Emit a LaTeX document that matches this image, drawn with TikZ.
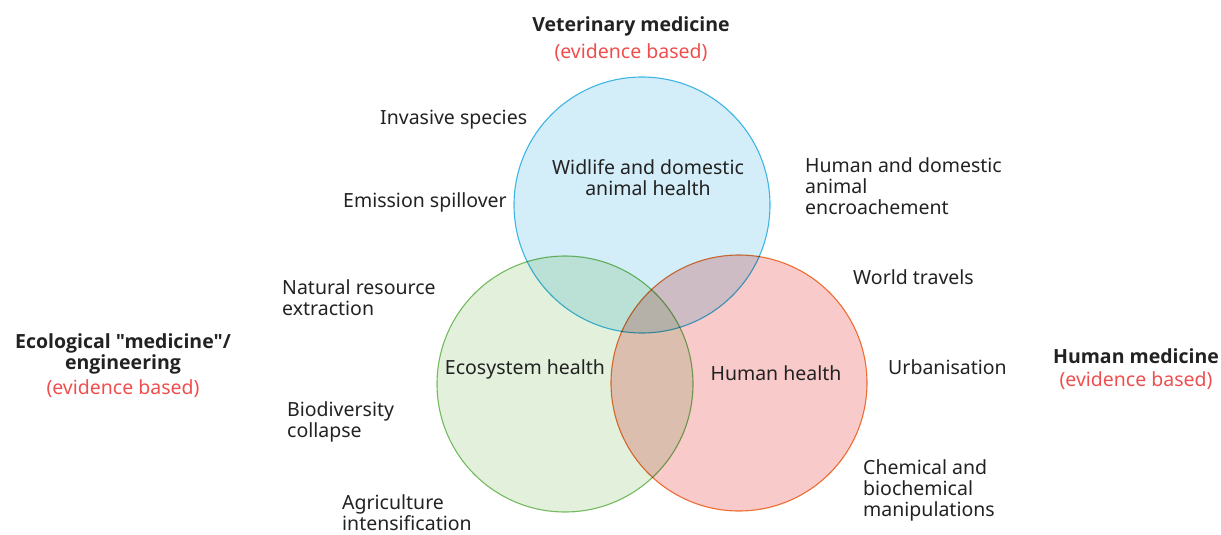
\documentclass[tikz,border=0pt]{standalone}
\usepackage{fontspec}
\setmainfont{Noto Sans}[Ligatures=TeXOff]
\newfontfamily\headfont{Open Sans}[Ligatures=TeXOff]
\usepackage{xcolor}
\usetikzlibrary{positioning}

\definecolor{vetline}{HTML}{45BDEA}
\definecolor{vetfill}{HTML}{D3EEF8}
\definecolor{ecoline}{HTML}{7CC268}
\definecolor{ecofill}{HTML}{E2F0DC}
\definecolor{humline}{HTML}{F27D3A}
\definecolor{humfill}{HTML}{F8CACA}
\definecolor{evired}{HTML}{F04E4E}
\definecolor{ink}{HTML}{222222}

\begin{document}
\begin{tikzpicture}[
  x=1pt, y=-1pt,
  field/.style={circle, draw=#1line, fill=#1fill, line width=1.1pt, minimum size=256pt, inner sep=0pt},
  head/.style={font=\headfont\fontsize{19.5}{21}\selectfont\bfseries, text=ink, align=center, inner sep=0pt},
  evi/.style={font=\fontsize{19.5}{21}\selectfont, text=evired, inner sep=0pt},
  label/.style={font=\fontsize{19.5}{21}\selectfont, text=ink, align=left, inner sep=0pt},
  area/.style={font=\fontsize{19.5}{21}\selectfont, text=ink, align=center, inner sep=0pt},
  node distance=8pt
]
  \useasboundingbox (0,0) rectangle (1221,535);

  % the three circles
  \begin{scope}[blend group=multiply]
    \node[field=vet] (vet) at (642,205) {};
    \node[field=eco] (eco) at (565,384) {};
    \node[field=hum] (hum) at (739,383) {};
  \end{scope}

  \node[area] (vetarea) at (648,178) {Widlife and domestic\\animal health};
  \node[area] (ecoarea) at (525,369) {Ecosystem health};
  \node[area] (humarea) at (776,373) {Human health};

  % disciplines
  \node[head] (vethead) at (631,26) {Veterinary medicine};
  \node[evi, below=of vethead] (vetevi) {(evidence based)};
  \node[head] (ecohead) at (123,354) {Ecological "medicine"/\\engineering};
  \node[evi, below=5pt of ecohead] (ecoevi) {(evidence based)};
  \node[head] (humhead) at (1136,356) {Human medicine};
  \node[evi, below=of humhead] (humevi) {(evidence based)};

  % drivers
  \node[label, anchor=west] (invasive) at (380,120) {Invasive species};
  \node[label, anchor=west] (emission) at (343,202) {Emission spillover};
  \node[label, anchor=west] (encroach) at (805,186) {Human and domestic\\animal\\encroachement};
  \node[label, anchor=west] (travels) at (853,277) {World travels};
  \node[label, anchor=west] (resource) at (282,298) {Natural resource\\extraction};
  \node[label, anchor=west] (urban) at (888,367) {Urbanisation};
  \node[label, anchor=west] (biodiv) at (287,422) {Biodiversity\\collapse};
  \node[label, anchor=west] (chemical) at (863,490) {Chemical and\\biochemical\\manipulations};
  \node[label, anchor=west] (agri) at (342,513) {Agriculture\\intensification};
\end{tikzpicture}
\end{document}
